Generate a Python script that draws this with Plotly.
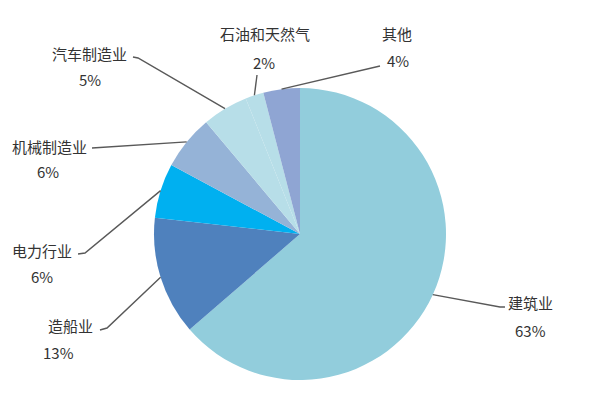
import math
import plotly.graph_objects as go

# data
labels = ['建筑业', '造船业', '电力行业', '机械制造业', '汽车制造业', '石油和天然气', '其他']
values = [63, 13, 6, 6, 5, 2, 4]
pct_text = ['63%', '13%', '6%', '6%', '5%', '2%', '4%']
colors = ['#92CDDC', '#4F81BD', '#00B0F0', '#95B3D7', '#B7DEE8', '#B7DEE8', '#8FA5D3']

W, H = 600, 400
OFF = 8  # page body margin in the browser
cx, cy, r = 300 - OFF, 234 - OFF, 146

# label layout in (reference) pixels: name center, pct center, leader points from label side
label_pos = {
    '建筑业': ((530, 302), (530, 330), [(505, 307), (500, 307)]),
    '造船业': ((70, 325), (58, 352), [(100, 330), (107, 328)]),
    '电力行业': ((42, 250), (42, 276), [(78, 254), (85, 253)]),
    '机械制造业': ((49, 147), (48, 172), [(92, 148)]),
    '汽车制造业': ((89, 53), (90, 80), [(133, 57), (138, 58)]),
    '石油和天然气': ((265, 33), (264, 62), [(257, 75)]),
    '其他': ((397, 33), (398, 60), [(380, 66)]),
}


def px(x, y):
    return (x - OFF) / W, 1 - (y - OFF) / H


fig = go.Figure(go.Pie(
    labels=labels, values=values, sort=False, direction='clockwise', rotation=0,
    marker=dict(colors=colors, line=dict(width=0)),
    textinfo='none', hoverinfo='label+text', text=pct_text, showlegend=False,
    domain=dict(x=[(cx - r) / W, (cx + r) / W], y=[(H - cy - r) / H, (H - cy + r) / H]),
))

font = dict(family='Noto Sans CJK SC, Microsoft YaHei, sans-serif', size=15, color='#333333')
total = sum(values)
acc = 0
shapes, annos = [], []
for name, v, p in zip(labels, values, pct_text):
    mid = (acc + v / 2) / total * 2 * math.pi
    acc += v
    ex, ey = cx + OFF + r * math.sin(mid), cy + OFF - r * math.cos(mid)
    npos, ppos, pts = label_pos[name]
    path_pts = [(ex, ey)] + pts[::-1]
    path = 'M ' + ' L '.join('%.4f,%.4f' % px(x, y) for x, y in path_pts)
    shapes.append(dict(type='path', path=path, xref='paper', yref='paper',
                       line=dict(color='#595959', width=1.4)))
    for t, pos in ((name, npos), (p, ppos)):
        x, y = px(*pos)
        annos.append(dict(text=t, x=x, y=y, xref='paper', yref='paper', showarrow=False,
                          xanchor='center', yanchor='middle', font=font))

fig.update_layout(
    width=W, height=H, margin=dict(l=0, r=0, t=0, b=0),
    paper_bgcolor='white', plot_bgcolor='white',
    shapes=shapes, annotations=annos,
)

fig.write_html("out.html")
